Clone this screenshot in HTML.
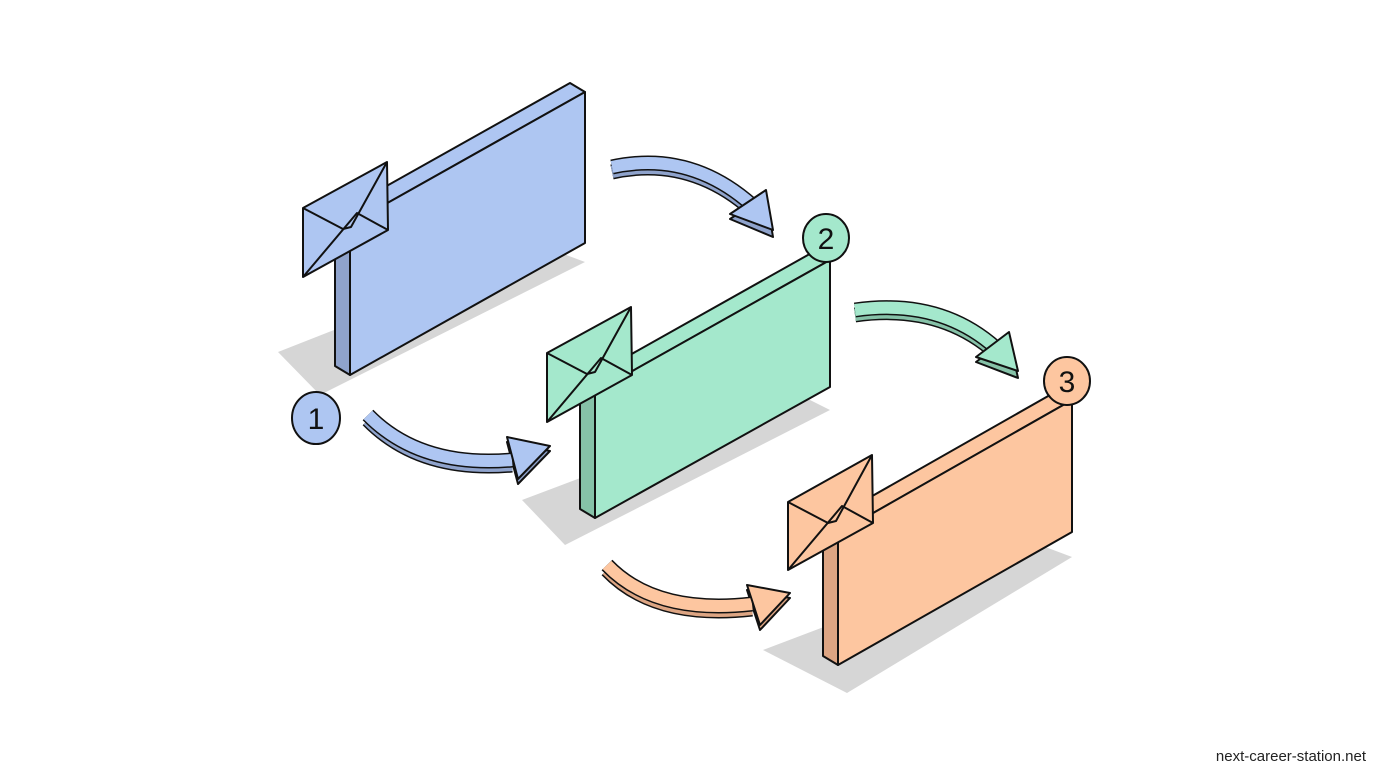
<!DOCTYPE html>
<html><head><meta charset="utf-8"><style>
html,body{margin:0;padding:0;background:#fff;}
svg{display:block;}
</style></head><body>
<svg width="1376" height="768" viewBox="0 0 1376 768" xmlns="http://www.w3.org/2000/svg">
<rect width="1376" height="768" fill="#ffffff"/>
<g stroke-linejoin="round">
<!-- shadows -->
<polygon points="278,352 545,247 585,262 320,395" fill="#d6d6d6"/>
<polygon points="522,500 800,395 830,410 565,545" fill="#d6d6d6"/>
<polygon points="763,650 1040,545 1072,557 847,693" fill="#d6d6d6"/>

<!-- panel 1 -->
<g stroke="#111" stroke-width="2">
<polygon points="335,215 350,224 350,375 335,366" fill="#8fa3cc"/>
<polygon points="335,215 570,83 585,92 350,224" fill="#aec6f2"/>
<polygon points="350,224 585,92 585,243 350,375" fill="#aec6f2"/>
<polygon points="303,208 387,162 388,230 303,277" fill="#aec6f2"/>
<polyline points="303,208 343,229 351,227 387,162" fill="none"/>
<polyline points="303,277 357,213 388,230" fill="none"/>
</g>
<!-- panel 2 -->
<g stroke="#111" stroke-width="2">
<polygon points="580,383 595,392 595,518 580,509" fill="#86c2a8"/>
<polygon points="580,383 815,251 830,260 595,392" fill="#a4e8cc"/>
<polygon points="595,392 830,260 830,387 595,518" fill="#a4e8cc"/>
<polygon points="547,353 631,307 632,375 547,422" fill="#a4e8cc"/>
<polyline points="547,353 587,374 595,372 631,307" fill="none"/>
<polyline points="547,422 601,358 632,375" fill="none"/>
<ellipse cx="826" cy="238" rx="23" ry="24" fill="#a4e8cc"/>
</g>
<!-- panel 3 -->
<g stroke="#111" stroke-width="2">
<polygon points="823,524 838,533 838,665 823,656" fill="#dda583"/>
<polygon points="823,524 1057,391 1072,400 838,533" fill="#fdc6a0"/>
<polygon points="838,533 1072,400 1072,532 838,665" fill="#fdc6a0"/>
<polygon points="788,502 872,455 873,523 788,570" fill="#fdc6a0"/>
<polyline points="788,502 828,523 836,521 872,455" fill="none"/>
<polyline points="788,570 842,506 873,523" fill="none"/>
<ellipse cx="1067" cy="381" rx="23" ry="24" fill="#fdc6a0"/>
</g>
<ellipse cx="316" cy="418" rx="24" ry="26" fill="#aec6f2" stroke="#111" stroke-width="2"/>
<g font-family="Liberation Sans, sans-serif" font-size="30" fill="#111" text-anchor="middle">
<text x="316" y="429">1</text>
<text x="826" y="249">2</text>
<text x="1067" y="392">3</text>
</g>

<!-- arrows -->
<!-- A blue top -->
<g transform="translate(0,5)">
<path d="M612,167 Q690,150 752,205" fill="none" stroke="#111" stroke-width="15"/>
<path d="M612,167 Q690,150 752,205" fill="none" stroke="#8fa3cc" stroke-width="12"/>
<polygon points="730,214 766,190 773,232" fill="#8fa3cc" stroke="#111" stroke-width="2"/>
</g>
<path d="M612,167 Q690,150 752,205" fill="none" stroke="#111" stroke-width="15"/>
<path d="M612,167 Q690,150 752,205" fill="none" stroke="#aec6f2" stroke-width="12"/>
<polygon points="730,214 766,190 773,230" fill="#aec6f2" stroke="#111" stroke-width="2"/>

<!-- B blue bottom -->
<g transform="translate(0,5)">
<path d="M368,415 Q420,468 512,460" fill="none" stroke="#111" stroke-width="15"/>
<path d="M368,415 Q420,468 512,460" fill="none" stroke="#8fa3cc" stroke-width="12"/>
<polygon points="507,437 550,446 518,479" fill="#8fa3cc" stroke="#111" stroke-width="2"/>
</g>
<path d="M368,415 Q420,468 512,460" fill="none" stroke="#111" stroke-width="15"/>
<path d="M368,415 Q420,468 512,460" fill="none" stroke="#aec6f2" stroke-width="12"/>
<polygon points="507,437 550,446 518,479" fill="#aec6f2" stroke="#111" stroke-width="2"/>

<!-- C green top -->
<g transform="translate(0,5)">
<path d="M855,310 Q940,298 996,348" fill="none" stroke="#111" stroke-width="15"/>
<path d="M855,310 Q940,298 996,348" fill="none" stroke="#86c2a8" stroke-width="12"/>
<polygon points="976,357 1009,332 1018,373" fill="#86c2a8" stroke="#111" stroke-width="2"/>
</g>
<path d="M855,310 Q940,298 996,348" fill="none" stroke="#111" stroke-width="15"/>
<path d="M855,310 Q940,298 996,348" fill="none" stroke="#a4e8cc" stroke-width="12"/>
<polygon points="976,357 1009,332 1018,371" fill="#a4e8cc" stroke="#111" stroke-width="2"/>

<!-- D orange bottom -->
<g transform="translate(0,5)">
<path d="M607,565 Q655,615 752,604" fill="none" stroke="#111" stroke-width="15"/>
<path d="M607,565 Q655,615 752,604" fill="none" stroke="#dda583" stroke-width="12"/>
<polygon points="747,585 790,593 760,625" fill="#dda583" stroke="#111" stroke-width="2"/>
</g>
<path d="M607,565 Q655,615 752,604" fill="none" stroke="#111" stroke-width="15"/>
<path d="M607,565 Q655,615 752,604" fill="none" stroke="#fdc6a0" stroke-width="12"/>
<polygon points="747,585 790,593 760,625" fill="#fdc6a0" stroke="#111" stroke-width="2"/>
</g>
<text x="1366" y="761" text-anchor="end" font-family="Liberation Sans, sans-serif" font-size="15" fill="#222">next-career-station.net</text>
</svg>
</body></html>
